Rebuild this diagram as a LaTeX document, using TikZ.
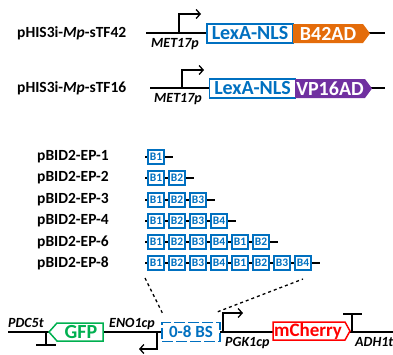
\documentclass[tikz,border=0pt]{standalone}
\usepackage{fontspec}
\setmainfont{Carlito}
\usetikzlibrary{arrows.meta}

\definecolor{dnablue}{RGB}{0,112,192}
\definecolor{adorange}{RGB}{228,108,10}
\definecolor{adpurple}{RGB}{112,48,160}
\definecolor{gfpgreen}{RGB}{0,176,80}

\begin{document}
\begin{tikzpicture}[x=1pt,y=-1pt]
    \tikzstyle{every node}=[inner sep=0pt]
    \tikzstyle{plasmid}=[anchor=west,font=\fontsize{15.5}{18}\selectfont\bfseries]
    \tikzstyle{elem}=[anchor=base west,font=\fontsize{14}{16}\selectfont\bfseries\itshape]
    \tikzstyle{dna}=[line width=2.5pt]
    \tikzstyle{prom}=[line width=1.3pt,-{Straight Barb[length=4pt,width=9pt]}]
    \tikzstyle{term}=[line width=1.3pt]
    \tikzstyle{lexa}=[draw=dnablue,fill=white,line width=1.5pt,minimum width=86pt,minimum height=19pt,text=dnablue,font=\fontsize{20}{22}\selectfont\bfseries]
    \tikzstyle{bsite}=[draw=dnablue,fill=white,line width=1.3pt,minimum width=16pt,minimum height=14pt,text=dnablue,font=\fontsize{11.5}{12}\selectfont\bfseries]
    \tikzstyle{bigtxt}=[font=\fontsize{20}{22}\selectfont\bfseries]
    \useasboundingbox (0,0) rectangle (393,354);

    % activators
    \node[plasmid] (tf42) at (17,33) {pHIS3i-\textit{Mp}-sTF42};
    \coordinate (l42) at (146,33);
    \coordinate (r42) at (385,33);
    \draw[dna] (l42) -- (r42);
    \draw[prom] (179,33) -- (179,14) -- (201,14);
    \node[elem] (met1) at (151,47) {MET17p};
    \node[lexa] (lexa1) at (250,33.5) {LexA-NLS};
    \fill[adorange] (293,24) -- (363,24) -- (370,33.5) -- (363,43) -- (293,43) -- cycle;
    \node[bigtxt,text=white] (b42) at (328,33.5) {B42AD};

    \node[plasmid] (tf16) at (17,88) {pHIS3i-\textit{Mp}-sTF16};
    \coordinate (l16) at (150,88);
    \coordinate (r16) at (385,88);
    \draw[dna] (l16) -- (r16);
    \draw[prom] (182,88) -- (182,70) -- (204,70);
    \node[elem] (met2) at (154,102) {MET17p};
    \node[lexa] (lexa2) at (252.5,88.5) {LexA-NLS};
    \fill[adpurple] (295,79) -- (365,79) -- (372,88.5) -- (365,98) -- (295,98) -- cycle;
    \node[bigtxt,text=white] (vp16) at (330,88.5) {VP16AD};

    % reporters
    \foreach \n/\y in {1/157,2/178,3/200,4/221,6/242,8/263} {
        \node[plasmid] (ep\n) at (37,\y) {pBID2-EP-\n};
        \draw[dna] (145,\y) coordinate (s\n) -- ({152+21*\n},\y) coordinate (e\n);
        \foreach \i in {1,...,\n} {
            \pgfmathtruncatemacro\b{mod(\i-1,4)+1}
            \node[bsite] (b\n-\i) at ({156+21*(\i-1)},\y) {B\b};
        }
    }

    \draw[dna] (8,332) -- (393,332);
    \node[elem] (pdc) at (8,327) {PDC5t};
    \draw[term] (46,332) -- (46,345);
    \draw[term] (36,345) -- (56,345);
    \draw[draw=gfpgreen,fill=white,line width=1.5pt] (49,332) -- (57,323) -- (103,323) -- (103,341) -- (57,341) -- cycle;
    \node[bigtxt,text=gfpgreen] (gfp) at (81,332) {GFP};
    \node[elem] (eno) at (109,327) {ENO1cp};
    \draw[prom] (157,332) -- (157,349) -- (139,349);
    \node[draw=dnablue,fill=white,line width=1.5pt,dash pattern=on 11pt off 3pt,minimum width=58pt,minimum height=19pt,
          text=dnablue,font=\fontsize{17}{18}\selectfont\bfseries] (bs) at (191,332) {0-8 BS};
    \draw[prom] (223,332) -- (223,313) -- (243,313);
    \node[elem] (pgk) at (225,346) {PGK1cp};
    \draw[draw=red,fill=white,line width=1.5pt] (273,322) -- (345,322) -- (350,331) -- (345,340) -- (273,340) -- cycle;
    \node[bigtxt,text=red,font=\fontsize{19}{20}\selectfont\bfseries] (mch) at (308,331) {mCherry};
    \draw[term] (352,332) -- (352,314);
    \draw[term] (343,314) -- (362,314);
    \node[elem] (adh) at (355,346) {ADH1t};

    \draw[line width=1.3pt,dashed] (s8) ++(0,15) -- ([shift={(1,-9)}]bs.north west);
    \draw[line width=1.3pt,dashed] ([shift={(-3,-10)}]bs.north east) -- (303,279);
\end{tikzpicture}
\end{document}
